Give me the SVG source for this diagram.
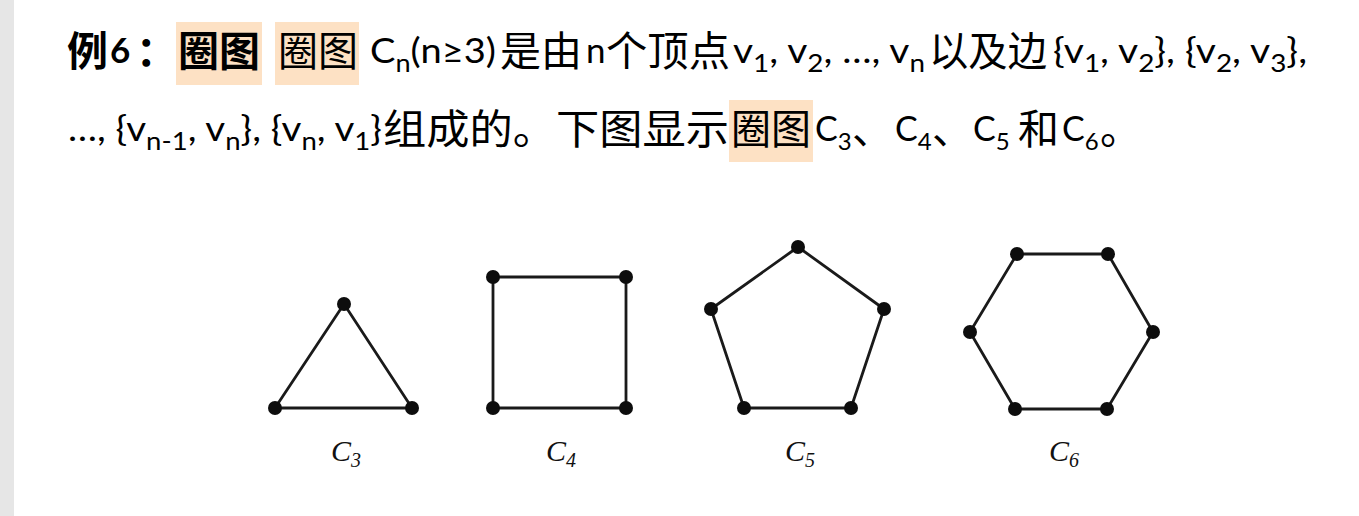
<svg xmlns="http://www.w3.org/2000/svg" width="1359" height="516" viewBox="0 0 1359 516">
<style>
.lat{font-family:Lato,"Liberation Sans","Noto Sans CJK SC",sans-serif;font-size:35px;fill:#000}
.cjk{font-family:"Noto Sans CJK SC","Noto Sans",sans-serif;font-size:41px;fill:#000}
.b{font-weight:bold}
.sub{font-size:25px}
.hl{fill:#fde1c4}
.edge{stroke:#1a1a1a;stroke-width:2.8;fill:none;stroke-linecap:round;stroke-linejoin:round}
.v{fill:#0d0d0d}
.lbl{font-family:"Liberation Serif","DejaVu Serif",serif;font-style:italic;font-size:30px;fill:#111}
.lsub{font-size:20px}
.cs{font-size:34px}
.cs .sub{font-size:24px}
</style>
<rect x="0" y="0" width="1359" height="516" fill="#fff"/>
<rect x="0" y="0" width="14" height="516" fill="#e6e6e6"/>

<g id="text-line1">
<rect class="hl" x="176" y="22" width="86" height="63"/>
<rect class="hl" x="275" y="22" width="84" height="63"/>
<text class="cjk b" x="67" y="66">例</text>
<text class="lat b" x="110" y="63" font-size="37">6</text>
<text class="cjk b" x="136" y="66">：</text>
<text class="cjk b" x="178" y="66" textLength="82" lengthAdjust="spacingAndGlyphs">圈图</text>
<text class="cjk" x="278" y="66" textLength="80" lengthAdjust="spacingAndGlyphs">圈图</text>
<text class="lat" x="370" y="63" textLength="126" lengthAdjust="spacingAndGlyphs">C<tspan class="sub" dy="9">n</tspan><tspan dy="-9">(n≥3)</tspan></text>
<text class="cjk" x="500" y="66">是由</text>
<text class="lat" x="586" y="63">n</text>
<text class="cjk" x="606" y="66" textLength="124" lengthAdjust="spacingAndGlyphs">个顶点</text>
<text class="lat" x="733" y="63" textLength="192" lengthAdjust="spacingAndGlyphs">v<tspan class="sub" dy="9">1</tspan><tspan dy="-9">, v</tspan><tspan class="sub" dy="9">2</tspan><tspan dy="-9">, …, v</tspan><tspan class="sub" dy="9">n</tspan></text>
<text class="cjk" x="929" y="66" textLength="118" lengthAdjust="spacingAndGlyphs">以及边</text>
<text class="lat" x="1053" y="63" textLength="254" lengthAdjust="spacingAndGlyphs">{v<tspan class="sub" dy="9">1</tspan><tspan dy="-9">, v</tspan><tspan class="sub" dy="9">2</tspan><tspan dy="-9">}, {v</tspan><tspan class="sub" dy="9">2</tspan><tspan dy="-9">, v</tspan><tspan class="sub" dy="9">3</tspan><tspan dy="-9">},</tspan></text>
</g>

<g id="text-line2">
<rect class="hl" x="729" y="100" width="84" height="62"/>
<text class="lat" x="68" y="141" textLength="314" lengthAdjust="spacingAndGlyphs">…, {v<tspan class="sub" dy="9">n-1</tspan><tspan dy="-9">, v</tspan><tspan class="sub" dy="9">n</tspan><tspan dy="-9">}, {v</tspan><tspan class="sub" dy="9">n</tspan><tspan dy="-9">, v</tspan><tspan class="sub" dy="9">1</tspan><tspan dy="-9">}</tspan></text>
<text class="cjk" x="383" y="144" textLength="346" lengthAdjust="spacingAndGlyphs">组成的。下图显示</text>
<text class="cjk" x="731" y="144" textLength="80" lengthAdjust="spacingAndGlyphs">圈图</text>
<text class="lat cs" x="815" y="141">C<tspan class="sub" dy="9">3</tspan></text>
<text class="cjk" x="852" y="144">、</text>
<text class="lat cs" x="895" y="141">C<tspan class="sub" dy="9">4</tspan></text>
<text class="cjk" x="932" y="144">、</text>
<text class="lat cs" x="973" y="141">C<tspan class="sub" dy="9">5</tspan></text>
<text class="cjk" x="1018" y="144">和</text>
<text class="lat cs" x="1062" y="141">C<tspan class="sub" dy="9">6</tspan></text>
<text class="cjk" x="1100" y="144">。</text>
</g>

<g id="connectors">
<polygon class="edge" points="344,304 412,408 275,408"/>
<polygon class="edge" points="493,277 626,277 626,408 493,408"/>
<polygon class="edge" points="798,247 884,309 851,408 744,408 711,309"/>
<polygon class="edge" points="1017,254 1108,254 1153,332 1107,409 1015,409 970,332"/>
</g>

<g id="C3">
<g id="c3-v1"><circle class="v" cx="344" cy="304" r="7"/></g>
<g id="c3-v2"><circle class="v" cx="412" cy="408" r="7"/></g>
<g id="c3-v3"><circle class="v" cx="275" cy="408" r="7"/></g>
<text class="lbl" x="331" y="461">C<tspan class="lsub" dy="6">3</tspan></text>
</g>
<g id="C4">
<g id="c4-v1"><circle class="v" cx="493" cy="277" r="7"/></g>
<g id="c4-v2"><circle class="v" cx="626" cy="277" r="7"/></g>
<g id="c4-v3"><circle class="v" cx="626" cy="408" r="7"/></g>
<g id="c4-v4"><circle class="v" cx="493" cy="408" r="7"/></g>
<text class="lbl" x="546" y="461">C<tspan class="lsub" dy="6">4</tspan></text>
</g>
<g id="C5">
<g id="c5-v1"><circle class="v" cx="798" cy="247" r="7"/></g>
<g id="c5-v2"><circle class="v" cx="884" cy="309" r="7"/></g>
<g id="c5-v3"><circle class="v" cx="851" cy="408" r="7"/></g>
<g id="c5-v4"><circle class="v" cx="744" cy="408" r="7"/></g>
<g id="c5-v5"><circle class="v" cx="711" cy="309" r="7"/></g>
<text class="lbl" x="785" y="461">C<tspan class="lsub" dy="6">5</tspan></text>
</g>
<g id="C6">
<g id="c6-v1"><circle class="v" cx="1017" cy="254" r="7"/></g>
<g id="c6-v2"><circle class="v" cx="1108" cy="254" r="7"/></g>
<g id="c6-v3"><circle class="v" cx="1153" cy="332" r="7"/></g>
<g id="c6-v4"><circle class="v" cx="1107" cy="409" r="7"/></g>
<g id="c6-v5"><circle class="v" cx="1015" cy="409" r="7"/></g>
<g id="c6-v6"><circle class="v" cx="970" cy="332" r="7"/></g>
<text class="lbl" x="1049" y="461">C<tspan class="lsub" dy="6">6</tspan></text>
</g>
</svg>
